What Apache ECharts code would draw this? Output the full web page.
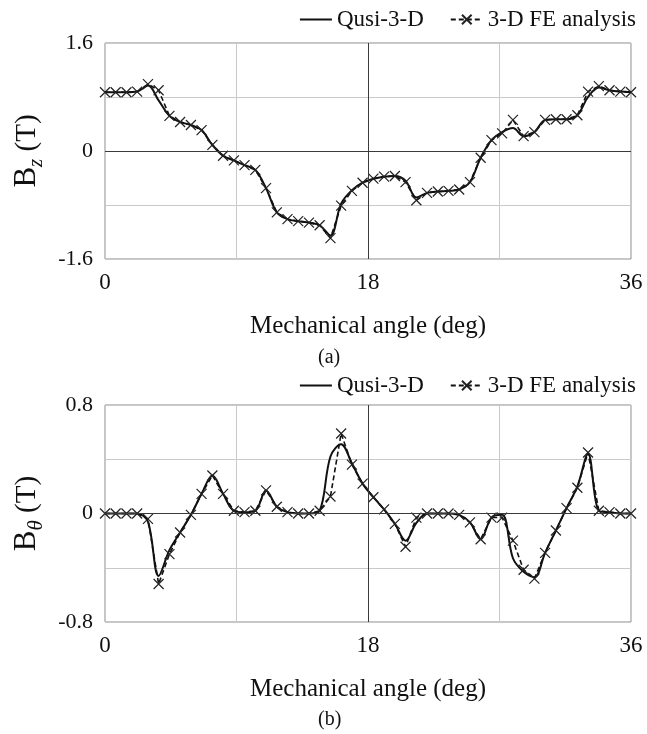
<!DOCTYPE html>
<html>
<head>
<meta charset="utf-8">
<script src="https://cdn.jsdelivr.net/npm/echarts@6/dist/echarts.min.js"></script>
<style>
  html, body { margin: 0; padding: 0; background: #ffffff; }
  #chart { width: 647px; height: 734px; }
</style>
</head>
<body>
<div id="chart"></div>
<script>
// mechanical angle of the FE sample points (deg)
var angle = [0, 0.73, 1.47, 2.20, 2.94, 3.67, 4.41, 5.14, 5.88, 6.61,
  7.35, 8.08, 8.82, 9.55, 10.29, 11.02, 11.76, 12.49, 13.22, 13.96,
  14.69, 15.43, 16.16, 16.90, 17.63, 18.37, 19.10, 19.84, 20.57, 21.31,
  22.04, 22.78, 23.51, 24.24, 24.98, 25.71, 26.45, 27.18, 27.92, 28.65,
  29.39, 30.12, 30.86, 31.59, 32.33, 33.06, 33.80, 34.53, 35.27, 36.00];

// (a) Bz (T)
var bzQuasi = [0.87, 0.87, 0.87, 0.88, 0.97, 0.75, 0.52, 0.43, 0.385, 0.31,
  0.09, -0.07, -0.14, -0.21, -0.28, -0.55, -0.91, -1.01, -1.04, -1.06,
  -1.10, -1.25, -0.78, -0.58, -0.47, -0.41, -0.38, -0.37, -0.44, -0.69,
  -0.62, -0.60, -0.59, -0.57, -0.46, -0.10, 0.16, 0.28, 0.34, 0.22,
  0.28, 0.46, 0.47, 0.47, 0.53, 0.80, 0.94, 0.90, 0.88, 0.87];
var bzFE = [0.87, 0.87, 0.87, 0.88, 0.99, 0.90, 0.52, 0.43, 0.385, 0.31,
  0.09, -0.07, -0.14, -0.21, -0.28, -0.55, -0.91, -1.01, -1.04, -1.06,
  -1.10, -1.29, -0.81, -0.59, -0.47, -0.41, -0.38, -0.37, -0.46, -0.73,
  -0.62, -0.60, -0.59, -0.57, -0.46, -0.10, 0.16, 0.26, 0.46, 0.22,
  0.28, 0.46, 0.47, 0.47, 0.53, 0.88, 0.96, 0.90, 0.88, 0.87];

// (b) Btheta (T)
var btQuasi = [0, 0, 0, 0, -0.06, -0.46, -0.27, -0.14, -0.01, 0.145,
  0.28, 0.145, 0.02, 0.01, 0.02, 0.17, 0.05, 0.01, 0, 0,
  0.02, 0.42, 0.51, 0.37, 0.22, 0.12, 0.03, -0.076, -0.20, -0.07,
  0, 0, 0, -0.01, -0.065, -0.19, -0.03, -0.01, -0.33, -0.43,
  -0.47, -0.29, -0.125, 0.04, 0.20, 0.44, 0.02, 0.01, 0, 0];
var btFE = [0, 0, 0, 0, -0.04, -0.52, -0.30, -0.14, -0.01, 0.145,
  0.28, 0.145, 0.02, 0.01, 0.02, 0.17, 0.05, 0.01, 0, 0,
  0.02, 0.125, 0.59, 0.36, 0.22, 0.12, 0.03, -0.076, -0.245, -0.03,
  0, 0, 0, -0.01, -0.065, -0.19, -0.03, -0.03, -0.20, -0.415,
  -0.48, -0.29, -0.125, 0.04, 0.19, 0.45, 0.02, 0.01, 0, 0];

var xTickLabels = [0, 18, 36];
var bzTickLabels = [-1.6, 0, 1.6];
var btTickLabels = [-0.8, 0, 0.8];

var FONT = "'Liberation Serif', 'Times New Roman', serif";
var INK = '#111111';
var CROSS = 'path://M0,0L10,10M10,0L0,10';

function pairs(ys) {
  return angle.map(function (x, i) { return [x, ys[i]]; });
}

function onList(list, v) {
  return list.some(function (t) { return Math.abs(t - v) < 1e-6; });
}

function xAxisFor(gridIndex) {
  return {
    type: 'value', gridIndex: gridIndex, min: 0, max: 36, interval: 9,
    name: 'Mechanical angle (deg)', nameLocation: 'middle', nameGap: 55,
    nameTextStyle: { fontFamily: FONT, fontSize: 25, color: INK },
    axisLine: { show: false }, axisTick: { show: false },
    axisLabel: {
      fontFamily: FONT, fontSize: 23, color: INK, margin: 12,
      formatter: function (v) { return onList(xTickLabels, v) ? String(v) : ''; }
    },
    splitLine: { lineStyle: { color: '#c9c9c9', width: 1 } }
  };
}

function yAxisFor(gridIndex, lim, step, labels, sub) {
  return {
    type: 'value', gridIndex: gridIndex, min: -lim, max: lim, interval: step,
    name: '{b|B}{s|' + sub + '}{t| (T)}', nameLocation: 'middle', nameRotate: 90, nameGap: 42,
    nameTextStyle: {
      fontFamily: FONT, color: INK,
      rich: {
        b: { fontFamily: FONT, fontSize: 31, lineHeight: 40, verticalAlign: 'middle', color: INK },
        s: { fontFamily: FONT, fontSize: 21, fontStyle: 'italic', lineHeight: 22, verticalAlign: 'bottom', color: INK },
        t: { fontFamily: FONT, fontSize: 29, lineHeight: 40, verticalAlign: 'middle', color: INK }
      }
    },
    axisLine: { show: false }, axisTick: { show: false },
    axisLabel: {
      fontFamily: FONT, fontSize: 22, color: INK, margin: 12,
      formatter: function (v) {
        if (!onList(labels, v)) return '';
        return Math.abs(v) < 1e-6 ? '0' : v.toFixed(1);
      }
    },
    splitLine: { lineStyle: { color: '#c9c9c9', width: 1 } }
  };
}

function refLines() {
  return {
    silent: true, symbol: 'none', animation: false,
    label: { show: false },
    lineStyle: { color: '#3a3a3a', width: 1, type: 'solid' },
    data: [{ yAxis: 0 }, { xAxis: 18 }]
  };
}

function quasiSeries(idx, ys) {
  return {
    name: 'Qusi-3-D', type: 'line', xAxisIndex: idx, yAxisIndex: idx,
    data: pairs(ys), smooth: 0.35, symbol: 'none',
    lineStyle: { color: INK, width: 2 },
    itemStyle: { color: INK },
    emphasis: { disabled: true },
    markLine: refLines(), z: 3
  };
}

function feSeries(idx, ys) {
  return {
    name: '3-D FE analysis', type: 'line', xAxisIndex: idx, yAxisIndex: idx,
    data: pairs(ys), smooth: false,
    symbol: CROSS, symbolSize: 10, showAllSymbol: true,
    lineStyle: { color: INK, width: 1.6, type: [5, 3] },
    itemStyle: { color: 'rgba(0,0,0,0)', borderColor: '#222222', borderWidth: 1.2 },
    emphasis: { disabled: true }, z: 4
  };
}

function legendAt(top) {
  return {
    top: top, right: 6, itemWidth: 32, itemHeight: 12, itemGap: 26,
    textStyle: { fontFamily: FONT, fontSize: 23, color: INK },
    selectedMode: false,
    data: [
      { name: 'Qusi-3-D', itemStyle: { opacity: 0 } },
      { name: '3-D FE analysis' }
    ]
  };
}

var chart = echarts.init(document.getElementById('chart'), null, { renderer: 'canvas' });

chart.setOption({
  animation: false,
  backgroundColor: '#ffffff',
  title: [
    { text: '(a)', left: 313, top: 343, textStyle: { fontFamily: FONT, fontSize: 20, fontWeight: 'normal', color: INK } },
    { text: '(b)', left: 313, top: 705, textStyle: { fontFamily: FONT, fontSize: 20, fontWeight: 'normal', color: INK } }
  ],
  legend: [legendAt(3), legendAt(369)],
  grid: [
    { left: 105, right: 16, top: 43, height: 216, show: true, borderColor: '#8a8a8a', borderWidth: 1, backgroundColor: 'transparent' },
    { left: 105, right: 16, top: 405, height: 217, show: true, borderColor: '#8a8a8a', borderWidth: 1, backgroundColor: 'transparent' }
  ],
  xAxis: [xAxisFor(0), xAxisFor(1)],
  yAxis: [
    yAxisFor(0, 1.6, 0.8, bzTickLabels, 'z'),
    yAxisFor(1, 0.8, 0.4, btTickLabels, '\u03b8')
  ],
  series: [
    quasiSeries(0, bzQuasi),
    feSeries(0, bzFE),
    quasiSeries(1, btQuasi),
    feSeries(1, btFE)
  ]
});

window.addEventListener('resize', function () { chart.resize(); });
</script>
</body>
</html>
